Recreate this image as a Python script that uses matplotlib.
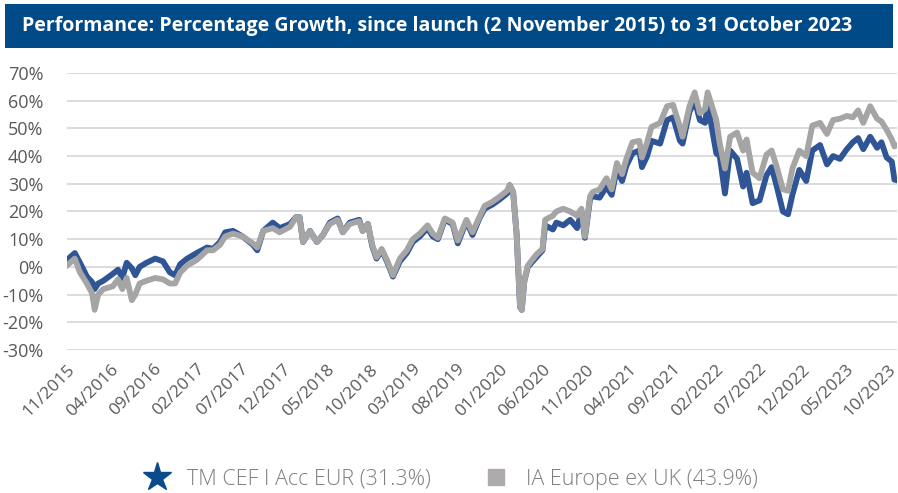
import matplotlib
matplotlib.use("Agg")
import matplotlib.pyplot as plt
from matplotlib.patches import Rectangle
from matplotlib.lines import Line2D

plt.rcParams['font.family'] = ['Open Sans', 'DejaVu Sans']

# months since launch (2 Nov 2015)
meses = [0.0, 0.9, 1.5, 2.3, 2.9, 3.2, 3.6, 4.2, 5.3, 5.9, 6.4, 6.9, 7.5, 7.9, 8.4, 9.2,
         10.2, 11.1, 11.9, 12.5, 13.1, 13.9, 15.0, 16.2, 16.9, 17.7, 18.3, 19.2, 20.3,
         21.5, 22.0, 22.7, 23.8, 24.6, 25.8, 26.5, 26.9, 27.3, 28.1, 28.9, 29.6, 30.4,
         31.3, 31.9, 32.7, 33.8, 34.2, 34.8, 35.3, 35.8, 36.4, 37.0, 37.7, 38.5, 39.3,
         40.0, 40.8, 41.7, 42.3, 42.9, 43.7, 44.6, 45.2, 46.2, 46.9, 47.7, 48.3, 49.2,
         50.1, 50.9, 51.2, 51.6, 52.0, 52.4, 52.6, 52.9, 53.3, 54.3, 55.0, 55.3, 56.2,
         56.6, 57.4, 58.2, 59.0, 59.5, 59.9, 60.5, 60.8, 61.6, 62.4, 63.0, 63.6, 64.2,
         64.7, 65.4, 66.2, 66.5, 67.1, 67.6, 68.6, 69.4, 70.1, 70.9, 71.2, 72.0, 72.6,
         73.2, 73.8, 74.1, 74.6, 75.1, 75.5, 76.1, 76.7, 77.5, 78.2, 78.6, 79.3, 80.1,
         80.9, 81.5, 82.1, 82.8, 83.4, 83.9, 84.7, 85.5, 86.2, 87.1, 87.9, 88.6, 89.4,
         90.2, 90.9, 91.5, 92.1, 92.9, 93.7, 94.2, 94.8, 95.4, 95.7, 96.0]

tm_cef = [2.5, 5, 1.5, -3.5, -5.5, -8, -6, -5, -2.5, -1, -4, 1.5, -0.5, -3, 0, 1.5,
          3, 2, -2, -3, 1, 3, 5, 7, 6.5, 9, 12.5, 13, 11,
          8, 6, 13, 16, 14, 15.5, 18, 18, 9, 13, 9, 11.5, 16,
          17.5, 12.5, 16, 17, 13, 15.5, 7.5, 3, 6, 2, -3.5, 2, 5,
          9, 11, 14, 11, 10, 17, 15.5, 8.5, 16.5, 11.5, 17.5, 21, 22.5,
          24.5, 26.5, 29.5, 27, 12, -14.5, -15.5, -5, 0, 3.5, 6, 15, 13.5,
          16, 15, 17, 14, 20, 10.5, 24.5, 25.5, 25, 29, 26, 35.5, 31,
          36.5, 41, 42, 36, 40, 45.5, 44.5, 53, 54, 45.5, 44.5, 56, 60,
          53, 52, 59, 50, 41, 40, 26.5, 42, 39, 29, 34, 23, 24,
          33, 36, 29, 20, 19, 26, 35, 31, 42, 44, 37, 40, 39,
          42.5, 45, 46.5, 42.5, 47, 43, 45, 39.5, 38, 31.5, 31.3]

ia_europa = [0.5, 3, -2, -6, -9.5, -15.5, -10, -8, -7, -4.5, -8, -4, -12, -10, -6, -5,
             -4, -4.5, -6, -6, -2, 0.5, 2.5, 6, 6, 8, 11, 12, 11,
             8.5, 7, 13, 14, 12.5, 14.5, 18, 18, 9, 13, 9, 11.5, 15.5,
             17, 12.5, 15.5, 16.5, 13, 15.5, 8, 3.5, 6.5, 2.5, -3, 3, 6,
             10, 12, 15, 12, 10.5, 17.5, 16, 9.5, 17, 12.5, 18, 22, 23.5,
             25.5, 27.5, 29.5, 27, 12, -14.5, -15.5, -5, 0.5, 4.5, 6.5, 17, 18.5,
             20, 21, 20, 18.5, 21, 11, 25.5, 27, 28, 32, 28, 37.5, 33.5,
             39, 45, 45.5, 39.5, 45, 50.5, 52, 58, 58.5, 50.5, 47, 58, 63,
             55.5, 57, 63, 58, 53, 44.5, 35.5, 47, 48.5, 42, 46, 34, 32,
             40.5, 42, 36, 28, 27.5, 35.5, 42, 40, 51, 52, 48, 53, 53.5,
             54.5, 54, 56.5, 52, 58, 53.5, 52.5, 49.5, 46, 43.5, 43.9]

etiquetas_x = ['11/2015', '04/2016', '09/2016', '02/2017', '07/2017', '12/2017', '05/2018',
               '10/2018', '03/2019', '08/2019', '01/2020', '06/2020', '11/2020', '04/2021',
               '09/2021', '02/2022', '07/2022', '12/2022', '05/2023', '10/2023']
ticks_x = [5 * i for i in range(len(etiquetas_x))]
ticks_y = list(range(-30, 71, 10))

azul = '#2F5597'
gris = '#A5A5A5'
texto = '#595959'

fig = plt.figure(figsize=(8.98, 4.93), dpi=100)

# Banner del titulo
fig.patches.append(Rectangle((5 / 898, 1 - 48 / 493), 888 / 898, 44 / 493,
                             transform=fig.transFigure, facecolor='#004A88',
                             edgecolor='none', zorder=0))
fig.text(22 / 898, 1 - 26 / 493,
         'Performance: Percentage Growth, since launch (2 November 2015) to 31 October 2023',
         color='white', fontsize=14, fontweight='bold', va='center', ha='left')

ax = fig.add_axes([67 / 898, 1 - 350 / 493, 830 / 898, 277 / 493])
ax.plot(meses, tm_cef, color=azul, linewidth=4.2, solid_joinstyle='round', zorder=3)
ax.plot(meses, ia_europa, color=gris, linewidth=4.2, solid_joinstyle='round', zorder=4)

ax.set_xlim(0, 96)
ax.set_ylim(-30, 70)
ax.set_yticks(ticks_y)
ax.set_yticklabels([f'{v}%' for v in ticks_y], color=texto, fontsize=13)
ax.set_xticks(ticks_x)
ax.set_xticklabels(etiquetas_x, rotation=45, ha='right', rotation_mode='anchor',
                   color=texto, fontsize=12.5)
ax.tick_params(axis='both', length=0)
ax.tick_params(axis='y', pad=17)
ax.tick_params(axis='x', pad=8)
ax.grid(axis='y', color='#D9D9D9', linewidth=1.3)
ax.set_axisbelow(True)
for lado in ax.spines.values():
    lado.set_visible(False)

handles = [Line2D([], [], color='#0B4A8B', marker='*', markersize=21, linestyle='none'),
           Line2D([], [], color='#AFABAB', marker='s', markersize=11, linestyle='none')]
fig.legend(handles, ['TM CEF I Acc EUR (31.3%)', 'IA Europe ex UK (43.9%)'],
           loc='center', bbox_to_anchor=(0.5, 1 - 479 / 493), ncol=2, frameon=False,
           prop={'size': 15.5, 'weight': 'light'}, labelcolor='#7F7F7F',
           handlelength=1.6, handletextpad=0.6, columnspacing=2.2)

fig.savefig('out.png', dpi=100)
